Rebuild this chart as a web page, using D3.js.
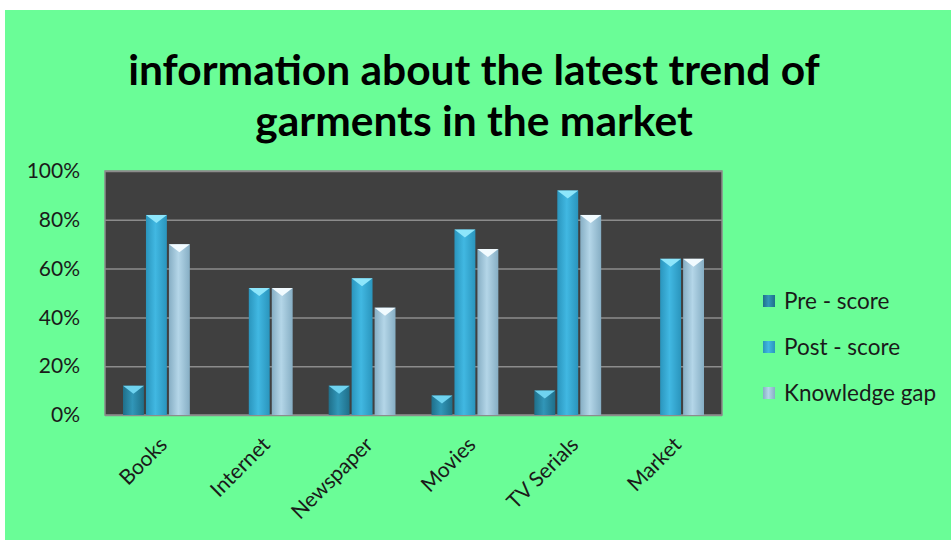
<!DOCTYPE html>
<html>
<head>
<meta charset="utf-8">
<script src="https://cdn.jsdelivr.net/npm/d3@7"></script>
<style>
    body { margin: 0; background: #fff; }
    text { font-family: Lato, "Open Sans", sans-serif; }
</style>
</head>
<body>
<div id="chart"></div>
<script>
"use strict"

let categories = ["Books", "Internet", "Newspaper", "Movies", "TV Serials", "Market"];
let seriesNames = ["Pre - score", "Post - score", "Knowledge gap"];
let preScore = [0.12, 0, 0.12, 0.08, 0.10, 0];
let postScore = [0.82, 0.52, 0.56, 0.76, 0.92, 0.64];
let knowledgeGap = [0.70, 0.52, 0.44, 0.68, 0.82, 0.64];
let yTicks = [0, 0.2, 0.4, 0.6, 0.8, 1.0];
let titleLines = ["information about the latest trend of", "garments in the market"];

let ChartView = function(targetID) {

    let self = {
        svg: null,
        plot: { left: 105, top: 171, right: 722, bottom: 415 },
        colors: [
            { edge: "#1f6f8a", mid: "#3196b8", cap: "#6fd3f0" },
            { edge: "#2a95bd", mid: "#41b8e2", cap: "#8ee6fb" },
            { edge: "#86aec4", mid: "#b4d6e8", cap: "#f2fbff" }
        ]
    };

    init();

    function init() {
        self.svg = d3.select(targetID).append("svg")
            .attr("width", 951)
            .attr("height", 540);

        self.svg.append("rect")
            .attr("x", 5).attr("y", 10)
            .attr("width", 946).attr("height", 530)
            .style("fill", "#6afd97");

        makeGradients();
        drawTitle();
        drawChart();
        drawLegend();
    }

    function makeGradients() {
        let defs = self.svg.append("defs");
        self.colors.forEach(function(c, i) {
            let g = defs.append("linearGradient")
                .attr("id", "barGrad" + i)
                .attr("x1", "0%").attr("x2", "100%")
                .attr("y1", "0%").attr("y2", "0%");
            g.append("stop").attr("offset", "0%").attr("stop-color", c.edge);
            g.append("stop").attr("offset", "45%").attr("stop-color", c.mid);
            g.append("stop").attr("offset", "100%").attr("stop-color", c.edge);
        });
    }

    function drawTitle() {
        self.svg.selectAll(".title")
            .data(titleLines)
            .enter().append("text")
            .attr("class", "title")
            .attr("x", 474)
            .attr("y", function(d, i) { return 85 + i * 51; })
            .attr("text-anchor", "middle")
            .style("font-size", "42.5px")
            .style("font-weight", "bold")
            .style("fill", "#000")
            .text(function(d) { return d; });
    }

    function drawChart() {
        let p = self.plot;

        let x = d3.scaleBand()
            .domain(categories)
            .range([p.left, p.right])
            .paddingInner(0.35)
            .paddingOuter(0.175);

        let xSub = d3.scaleBand()
            .domain(d3.range(seriesNames.length))
            .range([0, x.bandwidth()])
            .paddingInner(0.09);

        let y = d3.scaleLinear()
            .domain([0, 1])
            .range([p.bottom, p.top]);

        // plot area
        self.svg.append("rect")
            .attr("x", p.left).attr("y", p.top)
            .attr("width", p.right - p.left)
            .attr("height", p.bottom - p.top)
            .style("fill", "#404040")
            .style("stroke", "#8a8a8a")
            .style("stroke-width", "1.5px");

        let yAxis = self.svg.append("g")
            .attr("transform", "translate(" + p.left + ",0)")
            .call(d3.axisLeft(y)
                .tickValues(yTicks)
                .tickSize(-(p.right - p.left))
                .tickPadding(25)
                .tickFormat(d3.format(".0%")));

        yAxis.select(".domain").remove();
        yAxis.selectAll(".tick line")
            .style("stroke", "#8c8c8c")
            .style("stroke-width", "1.5px");
        yAxis.selectAll(".tick text")
            .style("font-size", "21px")
            .style("font-family", "Lato, sans-serif")
            .style("fill", "#1a1a1a");

        let series = [preScore, postScore, knowledgeGap];

        series.forEach(function(vals, si) {
            let g = self.svg.append("g").attr("class", "series" + si);
            vals.forEach(function(v, ci) {
                if (v <= 0) return;
                let bx = x(categories[ci]) + xSub(si);
                let bw = xSub.bandwidth();
                let top = y(v);

                g.append("rect")
                    .attr("x", bx)
                    .attr("y", top)
                    .attr("width", bw)
                    .attr("height", p.bottom - top)
                    .style("fill", "url(#barGrad" + si + ")");

                // pyramid-like cap on the bar top
                g.append("path")
                    .attr("d", "M" + bx + "," + top +
                        "L" + (bx + bw) + "," + top +
                        "L" + (bx + bw / 2) + "," + (top + 8) + "Z")
                    .style("fill", self.colors[si].cap);
            });
        });

        // category labels
        self.svg.selectAll(".xLabel")
            .data(categories)
            .enter().append("text")
            .attr("class", "xLabel")
            .attr("text-anchor", "end")
            .attr("transform", function(d) {
                let cx = x(d) + x.bandwidth() / 2 + 12;
                return "translate(" + cx + ",446) rotate(-45)";
            })
            .style("font-size", "21px")
            .style("fill", "#1a1a1a")
            .text(function(d) { return d; });
    }

    function drawLegend() {
        let items = self.svg.selectAll(".legendItem")
            .data(seriesNames)
            .enter().append("g")
            .attr("class", "legendItem")
            .attr("transform", function(d, i) {
                return "translate(763," + (301 + i * 46) + ")";
            });

        items.append("rect")
            .attr("x", 0).attr("y", -6)
            .attr("width", 12).attr("height", 12)
            .style("fill", function(d, i) { return "url(#barGrad" + i + ")"; });

        items.append("text")
            .attr("x", 21)
            .attr("y", 8)
            .style("font-size", "22.5px")
            .style("fill", "#1a1a1a")
            .text(function(d) { return d; });
    }

    return {};
}

ChartView("#chart");
</script>
</body>
</html>
